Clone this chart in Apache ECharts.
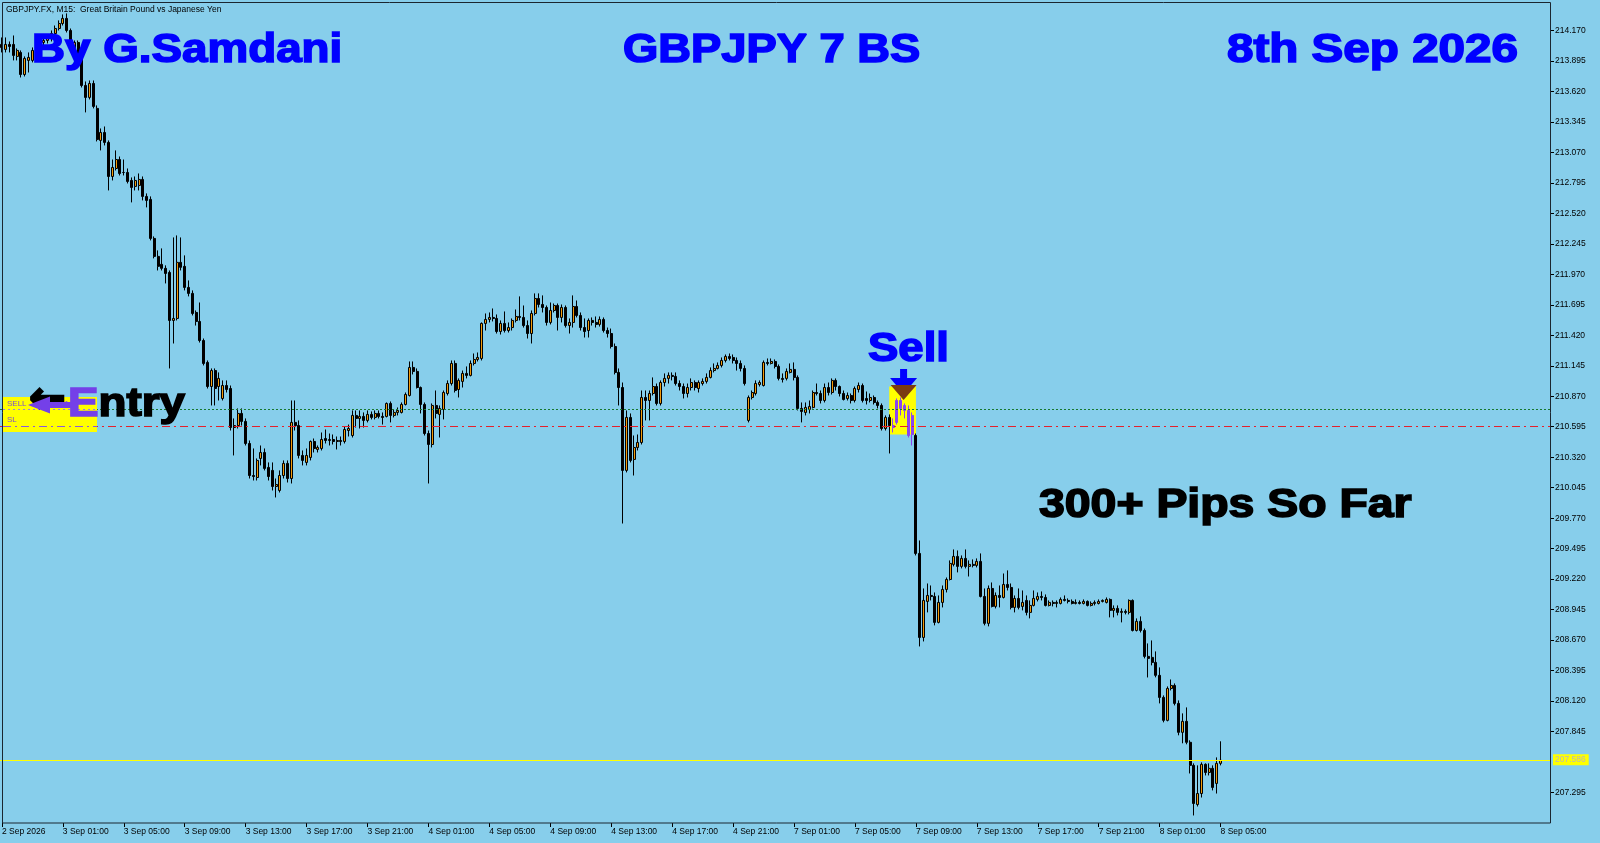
<!DOCTYPE html>
<html>
<head>
<meta charset="utf-8">
<script src="https://cdn.jsdelivr.net/npm/echarts@6/dist/echarts.min.js"></script>
<style>
html,body{margin:0;padding:0;background:#87CEEB;}
#c{width:1600px;height:843px;}
</style>
</head>
<body>
<div id="c"></div>
<script>
// ---- data (GBPJPY.FX M15) ----
// [open, close, low, high] per bar, starting 2 Sep 21:00
const ohlc = [
[214.044,214.017,213.972,214.107],[213.999,214.044,213.972,214.107],[214.044,214.026,213.972,214.071],[214.044,213.945,213.900,214.125],
[213.936,213.990,213.900,214.008],[213.972,213.773,213.746,213.990],[213.773,213.918,213.755,213.936],[213.900,213.927,213.791,213.972],
[213.900,213.990,213.882,214.017],[213.990,214.035,213.963,214.062],[214.035,214.062,214.008,214.098],[214.062,214.080,214.035,214.116],
[214.080,214.098,214.053,214.134],[214.098,214.143,214.071,214.170],[214.143,214.188,214.125,214.215],[214.188,214.233,214.170,214.261],
[214.233,214.279,214.215,214.315],[214.279,214.170,214.152,214.324],[214.170,214.053,214.035,214.188],[214.008,214.062,213.990,214.080],
[214.062,213.918,213.900,214.080],[213.918,213.674,213.656,213.936],[213.674,213.566,213.431,213.710],[213.566,213.692,213.548,213.719],
[213.692,213.485,213.467,213.719],[213.467,213.187,213.169,213.494],[213.178,213.250,213.088,213.286],[213.250,213.160,213.133,213.304],
[213.160,212.853,212.727,213.178],[212.853,212.934,212.817,213.006],[212.925,213.006,212.907,213.088],[213.006,212.880,212.862,213.033],
[212.889,212.889,212.862,213.006],[212.889,212.808,212.790,212.925],[212.817,212.754,212.619,212.844],[212.763,212.817,212.727,212.853],
[212.772,212.826,212.727,212.880],[212.826,212.673,212.637,212.853],[212.673,212.637,212.574,212.700],[212.646,212.294,212.276,212.673],
[212.294,212.132,212.114,212.312],[212.132,212.042,212.005,212.186],[212.060,212.024,212.005,212.204],[212.024,211.978,211.888,212.051],
[211.987,211.554,211.121,212.005],[211.554,211.572,211.346,212.303],[211.572,212.078,211.554,212.321],[212.078,212.033,212.005,212.303],
[212.042,211.852,211.825,212.141],[211.852,211.798,211.771,211.915],[211.798,211.617,211.599,211.825],[211.626,211.545,211.508,211.644],
[211.545,211.373,211.355,211.716],[211.373,211.166,211.148,211.391],[211.175,210.958,210.940,211.193],[210.958,211.102,210.787,211.121],
[211.102,210.940,210.787,211.121],[210.958,211.031,210.832,211.085],[210.850,210.967,210.832,211.013],[210.967,210.931,210.904,211.013],
[210.940,210.588,210.561,210.967],[210.588,210.606,210.336,210.670],[210.606,210.715,210.579,210.760],[210.715,210.643,210.606,210.760],
[210.643,210.444,210.426,210.670],[210.444,210.155,210.128,210.471],[210.155,210.146,210.110,210.399],[210.137,210.291,210.110,210.309],
[210.309,210.363,210.246,210.426],[210.363,210.219,210.201,210.399],[210.228,210.146,210.110,210.273],[210.201,210.056,210.020,210.273],
[210.056,210.074,209.957,210.128],[210.020,210.155,210.002,210.201],[210.155,210.264,210.128,210.291],[210.264,210.128,210.092,210.291],
[210.128,210.634,210.083,210.832],[210.634,210.606,210.561,210.832],[210.606,210.336,210.309,210.652],[210.336,210.291,210.246,210.381],
[210.273,210.336,210.246,210.399],[210.318,210.462,210.291,210.471],[210.462,210.399,210.363,210.489],[210.390,210.408,210.363,210.426],
[210.399,210.480,210.381,210.543],[210.489,210.471,210.444,210.570],[210.471,210.480,210.426,210.534],[210.480,210.462,210.435,210.525],
[210.462,210.471,210.390,210.507],[210.471,210.462,210.426,210.507],[210.462,210.570,210.444,210.597],[210.561,210.579,210.507,210.615],
[210.516,210.697,210.498,210.742],[210.697,210.670,210.588,210.742],[210.670,210.688,210.579,210.742],[210.688,210.652,210.588,210.724],
[210.652,210.706,210.634,210.742],[210.706,210.679,210.661,210.733],[210.679,210.715,210.661,210.742],[210.715,210.688,210.670,210.742],
[210.688,210.679,210.615,210.724],[210.688,210.805,210.679,210.814],[210.805,210.697,210.634,210.823],[210.697,210.724,210.679,210.751],
[210.724,210.742,210.697,210.769],[210.724,210.796,210.715,210.814],[210.796,210.886,210.787,210.904],[210.877,211.130,210.868,211.184],
[211.130,211.094,211.067,211.184],[211.094,210.949,210.940,211.121],[210.949,210.796,210.715,210.958],[210.796,210.534,210.516,210.814],
[210.534,210.435,210.083,210.561],[210.435,210.787,210.408,210.805],[210.787,210.715,210.670,210.922],[210.706,210.760,210.498,210.787],
[210.751,210.904,210.661,210.922],[210.895,210.985,210.877,211.013],[210.985,211.166,210.967,211.193],[211.166,210.922,210.904,211.193],
[210.931,211.013,210.859,211.031],[211.004,211.076,210.949,211.102],[211.076,211.058,211.031,211.139],[211.058,211.166,211.049,211.193],
[211.166,211.202,211.148,211.256],[211.202,211.220,211.184,211.265],[211.211,211.527,211.193,211.536],[211.527,211.563,211.463,211.617],
[211.563,211.581,211.536,211.626],[211.581,211.572,211.545,211.662],[211.572,211.454,211.436,211.608],[211.454,211.527,211.427,211.554],
[211.527,211.463,211.445,211.635],[211.463,211.490,211.445,211.536],[211.490,211.554,211.463,211.572],[211.554,211.590,211.536,211.653],
[211.590,211.581,211.554,211.771],[211.581,211.508,211.490,211.689],[211.508,211.436,211.391,211.554],[211.436,211.617,211.346,211.644],
[211.617,211.752,211.599,211.798],[211.752,211.698,211.671,211.798],[211.698,211.671,211.626,211.780],[211.671,211.536,211.508,211.689],
[211.536,211.644,211.518,211.716],[211.644,211.689,211.626,211.707],[211.689,211.581,211.463,211.707],[211.581,211.671,211.536,211.698],
[211.671,211.508,211.490,211.689],[211.508,211.536,211.436,211.572],[211.536,211.680,211.490,211.780],[211.680,211.599,211.581,211.734],
[211.599,211.490,211.463,211.626],[211.490,211.454,211.400,211.572],[211.463,211.554,211.400,211.572],[211.554,211.536,211.508,211.581],
[211.536,211.518,211.490,211.590],[211.518,211.563,211.499,211.590],[211.563,211.463,211.445,211.581],[211.463,211.436,211.400,211.490],
[211.436,211.319,211.301,211.481],[211.319,211.085,211.067,211.346],[211.085,210.949,210.787,211.121],[210.949,210.201,209.722,210.994],
[210.201,210.679,210.183,210.742],[210.679,210.291,210.273,210.715],[210.300,210.408,210.155,210.516],[210.408,210.453,210.381,210.525],
[210.453,210.859,210.435,210.922],[210.859,210.832,210.652,210.922],[210.832,210.895,210.652,210.922],[210.895,210.958,210.877,211.040],
[210.958,210.805,210.787,210.985],[210.805,210.994,210.787,211.013],[210.994,211.031,210.958,211.076],[211.031,211.058,210.985,211.085],
[211.058,211.049,211.013,211.085],[211.049,210.985,210.967,211.085],[210.985,210.958,210.922,211.013],[210.958,210.895,210.850,210.985],
[210.895,210.949,210.859,210.985],[210.949,210.994,210.922,211.031],[210.994,210.949,210.922,211.013],[210.940,210.994,210.904,211.013],
[210.985,211.004,210.967,211.031],[211.004,211.040,210.985,211.076],[211.040,211.102,211.031,211.130],[211.102,211.121,211.085,211.166],
[211.121,211.148,211.112,211.175],[211.148,211.193,211.130,211.220],[211.193,211.229,211.175,211.247],[211.229,211.211,211.193,211.256],
[211.220,211.193,211.166,211.247],[211.193,211.166,211.102,211.220],[211.166,211.121,211.094,211.193],[211.121,210.985,210.967,211.148],
[210.652,210.859,210.634,210.877],[210.859,210.904,210.841,210.922],[210.895,210.985,210.877,211.013],[210.976,210.994,210.958,211.013],
[210.967,211.175,210.958,211.193],[211.175,211.166,211.148,211.211],[211.166,211.184,211.157,211.211],[211.184,211.139,211.121,211.202],
[211.139,211.031,211.013,211.157],[211.031,211.022,210.994,211.076],[211.031,211.094,211.013,211.121],[211.085,211.112,211.076,211.166],
[211.112,211.040,211.013,211.175],[211.040,210.760,210.742,211.058],[210.760,210.733,210.634,210.814],[210.724,210.769,210.697,210.814],
[210.751,210.778,210.715,210.832],[210.769,210.904,210.760,210.922],[210.904,210.895,210.877,210.985],[210.895,210.832,210.805,210.922],
[210.832,210.949,210.814,210.985],[210.949,210.904,210.877,210.994],[210.904,211.013,210.886,211.031],[211.013,210.958,210.922,211.031],
[210.958,210.895,210.868,210.967],[210.895,210.841,210.832,210.922],[210.850,210.877,210.832,210.904],[210.877,210.832,210.805,210.895],
[210.832,210.940,210.814,210.958],[210.931,210.967,210.904,210.994],[210.967,210.832,210.814,210.985],[210.850,210.832,210.796,210.913],
[210.832,210.859,210.814,210.895],[210.859,210.814,210.796,210.877],[210.814,210.787,210.760,210.832],[210.787,210.579,210.561,210.805],
[210.579,210.679,210.561,210.697],[210.679,210.606,210.354,210.706],[210.606,210.588,210.543,210.670],[210.634,210.832,210.615,210.850],
[210.832,210.760,210.697,210.859],[210.787,210.742,210.670,210.805],[210.742,210.516,210.498,210.787],[210.697,210.525,210.426,210.724],
[210.516,209.452,209.434,210.534],[209.452,208.694,208.613,209.569],[208.694,209.028,208.658,209.136],[209.019,209.073,208.920,209.181],
[209.073,209.064,209.028,209.163],[209.064,208.830,208.803,209.100],[208.830,209.010,208.821,209.073],[209.010,209.127,208.965,209.163],
[209.127,209.217,209.100,209.235],[209.217,209.362,209.208,209.389],[209.353,209.425,209.335,209.488],[209.425,209.335,209.281,209.479],
[209.335,209.407,209.317,209.434],[209.407,209.335,209.317,209.488],[209.335,209.353,209.244,209.389],[209.353,209.344,209.326,209.398],
[209.344,209.380,209.326,209.407],[209.380,209.064,209.055,209.452],[209.064,208.821,208.803,209.136],[208.821,209.136,208.794,209.163],
[209.136,208.974,208.965,209.190],[208.974,209.073,208.956,209.100],[209.073,209.055,208.965,209.163],[209.055,209.172,209.046,209.271],
[209.172,209.145,209.118,209.299],[209.145,208.965,208.947,209.181],[208.965,209.046,208.920,209.073],[209.046,208.965,208.947,209.136],
[208.974,209.010,208.938,209.118],[209.028,208.920,208.893,209.073],[208.920,208.983,208.866,209.028],[208.983,209.046,208.974,209.118],
[209.037,209.064,209.019,209.100],[209.064,209.055,209.028,209.109],[209.055,208.983,208.974,209.082],[208.983,209.010,208.974,209.028],
[209.010,209.001,208.974,209.028],[209.001,209.010,208.965,209.028],[209.001,209.037,208.992,209.055],[209.037,209.028,209.019,209.073],
[209.028,209.019,209.001,209.046],[209.019,209.001,208.992,209.037],[209.001,209.010,208.992,209.037],[209.010,209.001,208.992,209.028],
[209.001,209.019,208.992,209.037],[209.019,208.983,208.974,209.028],[208.983,209.001,208.974,209.019],[209.001,209.010,208.983,209.028],
[209.001,209.019,208.992,209.037],[209.019,209.028,209.010,209.037],[209.010,209.037,209.001,209.055],[209.037,208.938,208.875,209.046],
[208.938,208.956,208.875,208.983],[208.956,208.920,208.893,208.983],[208.920,208.929,208.830,208.956],[208.929,208.920,208.902,208.947],
[208.920,209.028,208.902,209.037],[209.028,208.757,208.748,209.037],[208.757,208.839,208.748,208.866],[208.839,208.757,208.739,208.884],
[208.757,208.523,208.505,208.775],[208.523,208.505,208.333,208.640],[208.514,208.469,208.442,208.667],[208.469,208.352,208.334,208.568],
[208.352,208.153,208.099,208.424],[208.153,207.946,207.928,208.171],[207.946,208.234,207.937,208.252],[208.234,208.261,208.216,208.315],
[208.261,208.099,208.081,208.279],[208.099,207.838,207.811,208.126],[207.838,207.937,207.739,208.009],[207.937,207.748,207.730,208.063],
[207.748,207.540,207.467,207.766],[207.540,207.196,207.088,207.558],[207.187,207.286,207.169,207.540],[207.286,207.549,207.250,207.567],
[207.549,207.476,207.449,207.558],[207.476,207.513,207.449,207.558],[207.513,207.341,207.314,207.540],[207.377,207.558,207.286,207.612],
[207.558,207.586,207.540,207.757]
];
const signalBars = [234, 235, 236, 237, 238, 239];   // bars painted by the signal indicator
const entryPrice = 210.75;
const stopLossPrice = 210.60;
const bidPrice = 207.586;
const yTicks = [207.295,207.845,208.120,208.395,208.670,208.945,209.220,209.495,209.770,210.045,210.320,210.595,
                210.870,211.145,211.420,211.695,211.970,212.245,212.520,212.795,213.070,213.345,213.620,213.895,214.170];
const xTickLabels = ['3 Sep 01:00','3 Sep 05:00','3 Sep 09:00','3 Sep 13:00','3 Sep 17:00','3 Sep 21:00',
                     '4 Sep 01:00','4 Sep 05:00','4 Sep 09:00','4 Sep 13:00','4 Sep 17:00','4 Sep 21:00',
                     '7 Sep 01:00','7 Sep 05:00','7 Sep 09:00','7 Sep 13:00','7 Sep 17:00','7 Sep 21:00',
                     '8 Sep 01:00','8 Sep 05:00'];
const firstLabel = '2 Sep 2026';
const totalSlots = 407;   // chart shows empty space to the right of the last bar

// 15-minute categories (trading days only)
function pad(n){ return (n < 10 ? '0' : '') + n; }
const categories = [];
(function(){
  let d = 2, h = 21, m = 0;
  for (let i = 0; i < totalSlots; i++) {
    categories.push(d + ' Sep ' + pad(h) + ':' + pad(m));
    m += 15; if (m === 60) { m = 0; h++; }
    if (h === 24) { h = 0; d++; if (d === 5) d = 7; }
  }
})();

const PURPLE = '#8A46EE';
const candleData = ohlc.map((v, i) => signalBars.indexOf(i) >= 0
  ? { value: v, itemStyle: { color: PURPLE, color0: PURPLE, borderColor: PURPLE, borderColor0: PURPLE } }
  : v);

const showTick = (idx, val) => idx === 0 || xTickLabels.indexOf(val) >= 0;
const FONT = '"Liberation Sans", Arial, sans-serif';

const chart = echarts.init(document.getElementById('c'), null, { renderer: 'canvas' });
const option = {
  backgroundColor: '#87CEEB',
  animation: false,
  grid: { left: 0, right: 50, top: 0, bottom: 20, containLabel: false, outerBoundsMode: 'none' },
  xAxis: {
    type: 'category', data: categories, boundaryGap: true,
    axisLine: { show: false },
    axisTick: { show: true, alignWithLabel: true, interval: showTick, length: 4, lineStyle: { color: '#000' } },
    axisLabel: { interval: showTick, align: 'left', margin: 4, color: '#000', fontSize: 8.5, fontFamily: FONT,
                 formatter: (v, idx) => idx === 0 ? firstLabel : v },
    splitLine: { show: false }
  },
  yAxis: {
    type: 'value', position: 'right', min: 207.02, max: 214.445, scale: true,
    axisLine: { show: false },
    splitLine: { show: false },
    axisTick: { show: true, length: 4, customValues: yTicks, lineStyle: { color: '#000' } },
    axisLabel: { customValues: yTicks, margin: 5, color: '#000', fontSize: 8.5, fontFamily: FONT,
                 formatter: v => Number(v).toFixed(3) }
  },
  series: [{
    type: 'candlestick',
    data: candleData,
    barWidth: 2.5,
    z: 2,
    itemStyle: { color: '#F39A0B', color0: '#000000', borderColor: '#000000', borderColor0: '#000000', borderWidth: 1 },
    markLine: {
      silent: true, symbol: ['none', 'none'], animation: false,
      label: { show: false },
      data: [
        { yAxis: entryPrice, lineStyle: { color: '#17782F', type: [2, 2], width: 1 } },
        { yAxis: stopLossPrice, lineStyle: { color: '#E5202B', type: [8, 4, 2, 4], width: 1 } },
        { yAxis: bidPrice, lineStyle: { color: '#FFFF00', type: 'solid', width: 1 },
          label: { show: true, position: 'end', distance: 3, formatter: bidPrice.toFixed(3),
                   backgroundColor: '#FFFF00', color: '#B8B8B8', fontSize: 8.5, fontFamily: FONT, padding: [1, 3, 1, 2] } }
      ]
    }
  }]
};
chart.setOption(option);

// annotation positions tied to data coordinates
const boxTL = chart.convertToPixel({ gridIndex: 0 }, [233, 210.958]);
const boxBR = chart.convertToPixel({ gridIndex: 0 }, [240, 210.526]);
const arrowX = (boxTL[0] + boxBR[0]) / 2 + 1;

function bigText(txt, x, y, color, sx) {
  return { type: 'text', x: x, y: y, scaleX: sx, z: 30,
    style: { text: txt, font: 'bold 40px ' + FONT, fill: color, stroke: color, lineWidth: 1.6,
             align: 'left', verticalAlign: 'middle', textAlign: 'left', textVerticalAlign: 'middle' } };
}

chart.setOption({
  graphic: [
    // signal highlight box under the candles
    { type: 'rect', z: 1, shape: { x: boxTL[0], y: boxTL[1], width: boxBR[0] - boxTL[0], height: boxBR[1] - boxTL[1] },
      style: { fill: '#FFFF00' } },
    // blue arrow + brown sell triangle
    { type: 'rect', z: 20, shape: { x: arrowX - 3.5, y: 369, width: 7, height: 16 }, style: { fill: '#0000FF' } },
    { type: 'polygon', z: 20, shape: { points: [[arrowX - 13.5, 378], [arrowX + 13.5, 378], [arrowX, 394]] }, style: { fill: '#0000FF' } },
    { type: 'polygon', z: 21, shape: { points: [[arrowX - 13, 385], [arrowX + 13, 385], [arrowX, 400]] }, style: { fill: '#7B3A12' } },
    // left SELL / SL tag
    { type: 'rect', z: 10, shape: { x: 3, y: 397, width: 94, height: 35 }, style: { fill: '#FFFF00' } },
    { type: 'line', z: 11, shape: { x1: 3, y1: 409.5, x2: 97, y2: 409.5 }, style: { stroke: '#9C7FE0', lineWidth: 1, lineDash: [2, 3] } },
    { type: 'line', z: 11, shape: { x1: 3, y1: 426.5, x2: 97, y2: 426.5 }, style: { stroke: '#8A5AE0', lineWidth: 1, lineDash: [8, 4, 2, 4] } },
    { type: 'text', z: 12, x: 7, y: 404, style: { text: 'SELL', font: '8px ' + FONT, fill: '#7A4FD0', verticalAlign: 'middle', textVerticalAlign: 'middle' } },
    { type: 'text', z: 12, x: 7, y: 420, style: { text: 'SL', font: '8px ' + FONT, fill: '#7A4FD0', verticalAlign: 'middle', textVerticalAlign: 'middle' } },
    { type: 'text', z: 12, x: 60, y: 404, style: { text: '21', font: '8px ' + FONT, fill: '#7A4FD0', verticalAlign: 'middle', textVerticalAlign: 'middle' } },
    // "← Entry"
    { type: 'text', z: 30, x: 29, y: 401, style: { text: '←', font: 'bold 44px "DejaVu Sans", sans-serif', fill: '#000',
      stroke: '#000', lineWidth: 2, verticalAlign: 'middle', textVerticalAlign: 'middle' } },
    { type: 'polygon', z: 31, shape: { points: [[28, 405], [50, 396.5], [50, 402], [71, 402], [71, 408], [50, 408], [50, 413.5]] },
      style: { fill: '#7440E8' } },
    { type: 'text', z: 30, x: 68, y: 405, scaleX: 1.145,
      style: { text: '{p|E}{k|ntry}', font: 'bold 40px ' + FONT, verticalAlign: 'middle', textVerticalAlign: 'middle',
        rich: { p: { font: 'bold 40px ' + FONT, fill: '#7440E8', stroke: '#7440E8', lineWidth: 1.6 },
                k: { font: 'bold 40px ' + FONT, fill: '#000', stroke: '#000', lineWidth: 1.6 } } } },
    // headline texts
    bigText('By G.Samdani', 32, 50.5, '#0000FF', 1.144),
    bigText('GBPJPY 7 BS', 623, 50.5, '#0000FF', 1.133),
    bigText('8th Sep 2026', 1227, 50.5, '#0000FF', 1.19),
    bigText('Sell', 868, 349.5, '#0000FF', 1.138),
    bigText('300+ Pips So Far', 1039, 506, '#000000', 1.16),
    // chart caption
    { type: 'text', z: 30, x: 6, y: 9.5, style: { text: 'GBPJPY.FX, M15:  Great Britain Pound vs Japanese Yen', font: '8.5px ' + FONT,
      fill: '#000', verticalAlign: 'middle', textVerticalAlign: 'middle' } },
    // plot frame
    { type: 'rect', z: 40, silent: true, shape: { x: 2.5, y: 2.5, width: 1548, height: 820.5 },
      style: { fill: 'none', stroke: '#1B2630', lineWidth: 1 } }
  ]
});
</script>
</body>
</html>
